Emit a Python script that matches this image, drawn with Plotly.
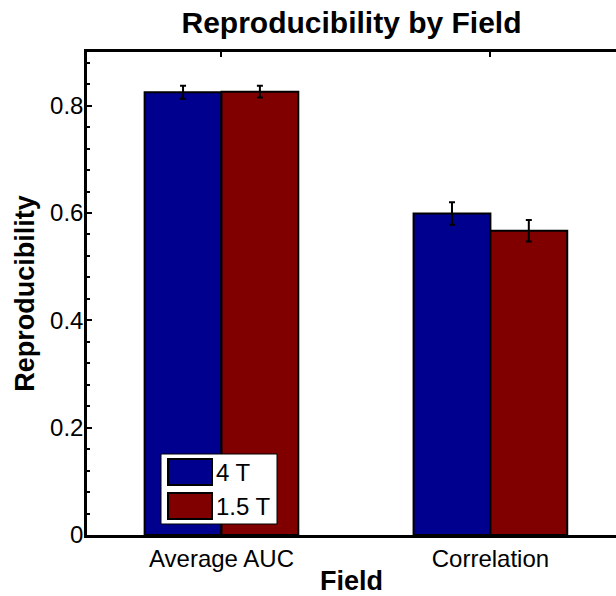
import plotly.graph_objects as go

# Reproducibility per field strength
categories = ["Average AUC", "Correlation"]
series_names = ["4 T", "1.5 T"]
values_4t = [0.825, 0.599]
values_15t = [0.826, 0.567]
err_4t = [0.012, 0.021]
err_15t = [0.011, 0.020]
colors = ["#00008F", "#800000"]
y_ticks = [0, 0.2, 0.4, 0.6, 0.8]

W, H = 616, 596
L, R, T, B = 87, 0, 52, 61
FONT = "Liberation Sans, Arial, Helvetica, sans-serif"

fig = go.Figure()
for name, vals, errs, col in zip(series_names, [values_4t, values_15t],
                                 [err_4t, err_15t], colors):
    fig.add_trace(go.Bar(
        x=categories, y=vals, name=name,
        marker=dict(color=col, line=dict(color="black", width=2)),
        error_y=dict(type="data", array=errs, color="black",
                     thickness=2, width=3),
        showlegend=False,
    ))

# Boxed legend in the lower left of the axes, drawn in paper units
pw, ph = W - L - R, H - T - B


def px_x(x):
    return (x - L) / pw


def px_y(y):
    return 1 - (y - T) / ph


shapes = [dict(type="rect", xref="paper", yref="paper",
               x0=px_x(161), x1=px_x(277), y0=px_y(524), y1=px_y(454),
               fillcolor="white", line=dict(color="black", width=1))]
annotations = []
for i, (name, col) in enumerate(zip(series_names, colors)):
    top = 459 + i * 34
    shapes.append(dict(type="rect", xref="paper", yref="paper",
                       x0=px_x(168), x1=px_x(212),
                       y0=px_y(top + 26), y1=px_y(top),
                       fillcolor=col, line=dict(color="black", width=2)))
    annotations.append(dict(text=name, xref="paper", yref="paper",
                            x=px_x(214), y=px_y(top + 13),
                            xanchor="left", yanchor="middle",
                            showarrow=False,
                            font=dict(family=FONT, size=24, color="black")))

fig.update_layout(
    width=W, height=H,
    margin=dict(l=L, r=R, t=T, b=B),
    paper_bgcolor="white", plot_bgcolor="white",
    barmode="group", bargap=0.4286, bargroupgap=0,
    font=dict(family=FONT, size=24, color="black"),
    title=dict(text="<b>Reproducibility by Field</b>",
               font=dict(family=FONT, size=30, color="black"),
               x=351.5 / W, xanchor="center",
               y=1 - 22 / H, yanchor="middle"),
    shapes=shapes, annotations=annotations,
)
fig.update_xaxes(
    type="category", range=[-0.5, 1.467],
    showline=True, linecolor="black", linewidth=2.5, mirror="ticks",
    ticks="inside", ticklen=5, tickwidth=2, tickcolor="black",
    showgrid=False, zeroline=False,
    tickfont=dict(family=FONT, size=24, color="black"),
    title=dict(text="<b>Field</b>", standoff=4,
               font=dict(family=FONT, size=27, color="black")),
)
fig.update_yaxes(
    range=[0, 0.9], tickvals=y_ticks,
    showline=True, linecolor="black", linewidth=2.5, mirror=False,
    ticks="inside", ticklen=5, tickwidth=2, tickcolor="black",
    ticklabelstandoff=-4,
    minor=dict(dtick=0.04, tick0=0, ticks="inside", ticklen=3,
               tickwidth=1.5, tickcolor="black", showgrid=False),
    showgrid=False, zeroline=False,
    tickfont=dict(family=FONT, size=24, color="black"),
    title=dict(text="<b>Reproducibility</b>", standoff=8,
               font=dict(family=FONT, size=27, color="black")),
)

fig.write_html("out.html")
